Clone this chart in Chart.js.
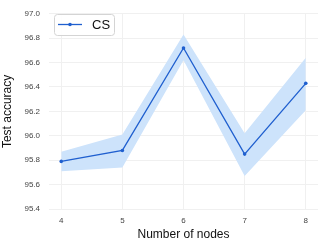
<!DOCTYPE html>
<html>
<head>
<style>
  body { margin: 0; background: #fff; }
</style>
</head>
<body>
<canvas id="chart" width="324" height="246"></canvas>
<script src="https://cdn.jsdelivr.net/npm/chart.js@4.4.0/dist/chart.umd.min.js"></script>
<script>
const nodes = [4, 5, 6, 7, 8];
const accuracy = [95.79, 95.88, 96.72, 95.85, 96.43];
const lower = [95.71, 95.74, 96.62, 95.67, 96.21];
const upper = [95.87, 96.01, 96.83, 96.02, 96.64];
const yTicks = [95.4, 95.6, 95.8, 96.0, 96.2, 96.4, 96.6, 96.8, 97.0];

const lineColor = "#1f5fcf";
const bandColor = "rgb(205, 227, 251)";

function pts(ys) {
  return nodes.map((x, i) => ({ x: x, y: ys[i] }));
}

// legend box drawn inside the plot, like matplotlib's upper left
const insideLegend = {
  id: "insideLegend",
  afterDraw(chart) {
    const ctx = chart.ctx;
    const x = 54, y = 14, w = 60, h = 21;
    ctx.save();
    ctx.fillStyle = "rgba(255,255,255,0.9)";
    ctx.strokeStyle = "#d4d4d4";
    ctx.lineWidth = 1;
    ctx.beginPath();
    ctx.roundRect(x + 0.5, y + 0.5, w, h, 3);
    ctx.fill();
    ctx.stroke();
    ctx.strokeStyle = lineColor;
    ctx.lineWidth = 1.3;
    ctx.beginPath();
    ctx.moveTo(58, 24.5);
    ctx.lineTo(82, 24.5);
    ctx.stroke();
    ctx.fillStyle = lineColor;
    ctx.beginPath();
    ctx.arc(70, 24.5, 1.8, 0, Math.PI * 2);
    ctx.fill();
    ctx.fillStyle = "#111";
    ctx.font = "13px 'Liberation Sans', Arial, sans-serif";
    ctx.textBaseline = "middle";
    ctx.fillText("CS", 92, 25);
    ctx.restore();
  }
};

new Chart(document.getElementById("chart"), {
  type: "scatter",
  data: {
    datasets: [
      {
        label: "lower",
        data: pts(lower),
        showLine: true,
        borderWidth: 0,
        borderColor: "rgba(0,0,0,0)",
        pointRadius: 0,
        fill: false,
        order: 2
      },
      {
        label: "upper",
        data: pts(upper),
        showLine: true,
        borderWidth: 0,
        borderColor: "rgba(0,0,0,0)",
        backgroundColor: bandColor,
        pointRadius: 0,
        fill: "-1",
        order: 1
      },
      {
        label: "CS",
        data: pts(accuracy),
        showLine: true,
        borderColor: lineColor,
        backgroundColor: lineColor,
        borderWidth: 1.3,
        pointRadius: 1.8,
        pointBorderWidth: 0,
        fill: false,
        clip: false,
        order: 0
      }
    ]
  },
  options: {
    responsive: false,
    animation: false,
    layout: { padding: { top: 8, right: 6, left: 0, bottom: 0 } },
    plugins: {
      legend: { display: false },
      tooltip: { enabled: false }
    },
    scales: {
      x: {
        type: "linear",
        min: 3.8,
        max: 8.2,
        afterBuildTicks: (s) => { s.ticks = nodes.map(v => ({ value: v })); },
        afterFit: (s) => { s.height = 37; },
        grid: { color: "#f0f0f0", drawTicks: false },
        border: { display: false },
        ticks: {
          padding: 7,
          color: "#444",
          font: { size: 8, family: "'Liberation Sans', Arial, sans-serif" }
        },
        title: {
          display: true,
          text: "Number of nodes",
          color: "#111",
          padding: { top: 2, bottom: 4 },
          font: { size: 12, family: "'Liberation Sans', Arial, sans-serif" }
        }
      },
      y: {
        min: 95.4,
        max: 97.0,
        afterBuildTicks: (s) => { s.ticks = yTicks.map(v => ({ value: v })); },
        afterFit: (s) => { s.width = 49; },
        grid: { color: "#f0f0f0", drawTicks: false },
        border: { display: false },
        ticks: {
          padding: 9,
          color: "#444",
          callback: (v) => Number(v).toFixed(1),
          font: { size: 8, family: "'Liberation Sans', Arial, sans-serif" }
        },
        title: {
          display: true,
          text: "Test accuracy",
          color: "#111",
          padding: { top: 0, bottom: 4 },
          font: { size: 12, family: "'Liberation Sans', Arial, sans-serif" }
        }
      }
    }
  },
  plugins: [insideLegend]
});
</script>
</body>
</html>
